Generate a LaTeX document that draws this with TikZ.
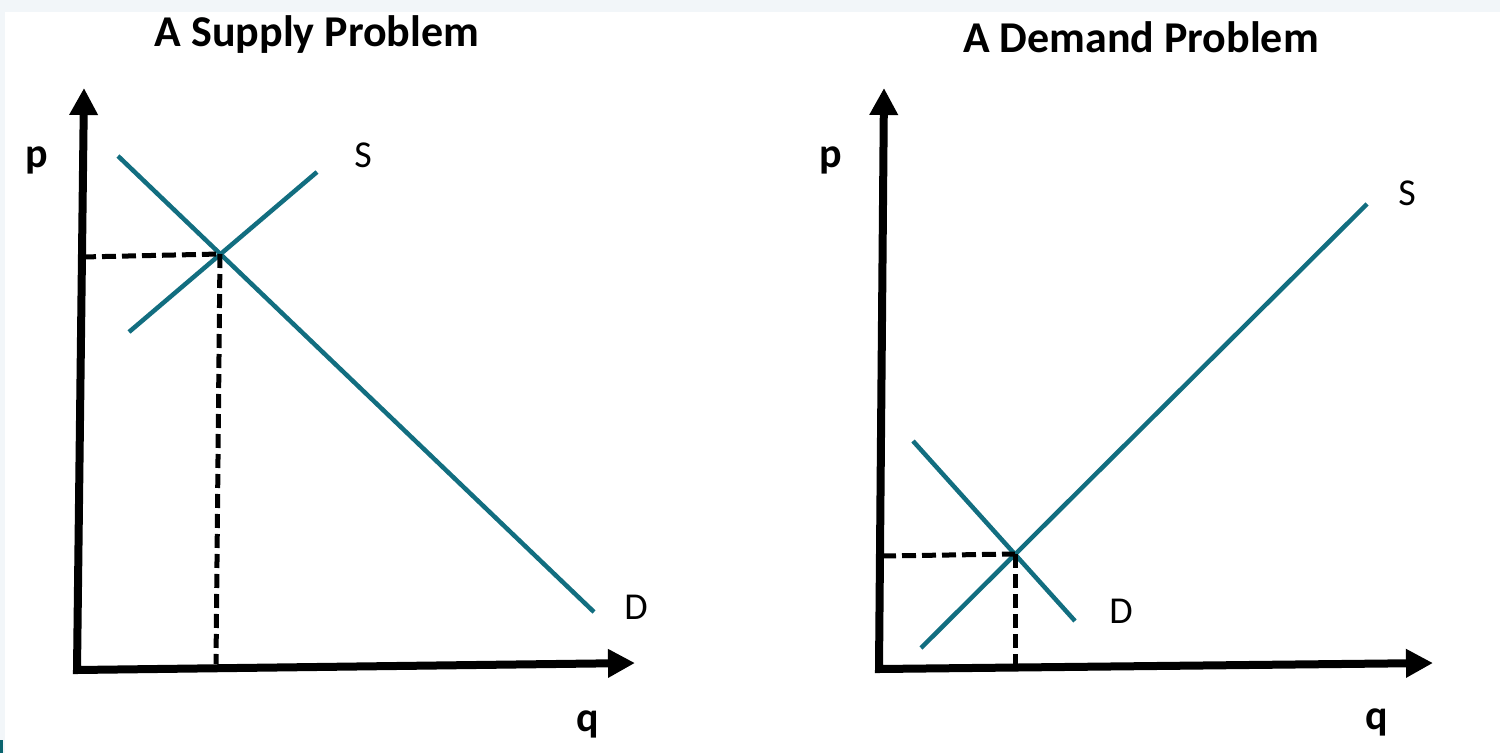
\documentclass[tikz,border=0pt]{standalone}
\usepackage{fontspec}
\setmainfont{Carlito}
\usetikzlibrary{arrows.meta}
\definecolor{bggray}{HTML}{F2F6F9}
\definecolor{curveteal}{RGB}{18,110,128}
\definecolor{cornerteal}{RGB}{10,100,110}
\tikzset{
  axisline/.style={line width=8pt, line join=miter, {Triangle[length=27pt,width=27pt]}-{Triangle[length=27pt,width=27pt]}},
  curve/.style={line width=4.5pt, draw=curveteal},
  guide/.style={line width=5pt, dash pattern=on 14pt off 6pt},
  title/.style={font=\fontsize{44}{48}\bfseries\selectfont, inner sep=0pt},
  axlabel/.style={font=\fontsize{42}{46}\bfseries\selectfont, inner sep=0pt},
  curvelabel/.style={font=\fontsize{38}{42}\selectfont, inner sep=0pt}
}
\begin{document}
\begin{tikzpicture}[x=1pt,y=-1pt]
\useasboundingbox (0,0) rectangle (1500,753);
\fill[bggray] (0,0) rectangle (1500,753);
\fill[white] (5,12) rectangle (1500,753);
\fill[cornerteal] (0,740) rectangle (3,753);

% ---- left panel: A Supply Problem
\node[title] (t1) at (317,35) {A Supply Problem};
\coordinate (ytip1) at (84,88);
\coordinate (o1) at (77,670);
\coordinate (xtip1) at (635,663);
\draw[axisline] (ytip1) -- (o1) -- (xtip1);
\coordinate (d1a) at (118,156);
\coordinate (d1b) at (594,612);
\coordinate (s1a) at (129,332);
\coordinate (s1b) at (317,172);
\draw[curve] (d1a) -- (d1b);
\draw[curve] (s1a) -- (s1b);
\coordinate (e1) at (220,254);
\coordinate (py1) at (82,257);
\coordinate (qx1) at (216,664);
\draw[guide] (py1) -- (e1);
\draw[guide] (e1) -- (qx1);
\node[axlabel] (p1) at (37,160) {p};
\node[axlabel] (q1) at (588,724) {q};
\node[curvelabel] (sl1) at (363,155) {S};
\node[curvelabel] (dl1) at (636,607) {D};

% ---- right panel: A Demand Problem
\node[title] (t2) at (1141,37) {A Demand Problem};
\coordinate (ytip2) at (884,88);
\coordinate (o2) at (879,669);
\coordinate (xtip2) at (1433,663);
\draw[axisline] (ytip2) -- (o2) -- (xtip2);
\coordinate (s2a) at (921,648);
\coordinate (s2b) at (1367,204);
\coordinate (d2a) at (913,441);
\coordinate (d2b) at (1075,621);
\draw[curve] (s2a) -- (s2b);
\draw[curve] (d2a) -- (d2b);
\coordinate (e2) at (1015,554);
\coordinate (py2) at (882,556);
\coordinate (qx2) at (1015,664);
\draw[guide] (py2) -- (e2);
\draw[guide] (e2) -- (qx2);
\node[axlabel] (p2) at (831,160) {p};
\node[axlabel] (q2) at (1377,722) {q};
\node[curvelabel] (sl2) at (1407,193) {S};
\node[curvelabel] (dl2) at (1121,611) {D};
\end{tikzpicture}
\end{document}
